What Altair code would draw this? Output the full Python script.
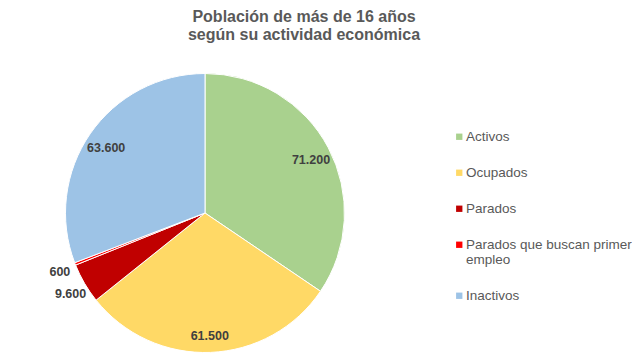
import altair as alt
import pandas as pd

categories = ["Activos", "Ocupados", "Parados", "Parados que buscan primer empleo", "Inactivos"]
values = [71200, 61500, 9600, 600, 63600]
colors = ["#A9D18E", "#FFD966", "#C00000", "#FF0000", "#9DC3E6"]
title_lines = ["Población de más de 16 años", "según su actividad económica"]

df = pd.DataFrame({"cat": categories, "value": values, "idx": list(range(len(categories)))})

base = alt.Chart(df).encode(
    theta=alt.Theta("value:Q", stack=True),
    order=alt.Order("idx:Q"),
)

pie = base.mark_arc(outerRadius=139.5, stroke="white", strokeWidth=1).encode(
    color=alt.Color(
        "cat:N",
        scale=alt.Scale(domain=categories, range=colors),
        sort=categories,
        legend=alt.Legend(
            title=None,
            orient="none",
            legendX=444.5,
            legendY=62,
            symbolType="square",
            symbolSize=40,
            symbolStrokeWidth=0,
            labelFontSize=13.5,
            labelFont="Liberation Sans",
            labelColor="#595959",
            rowPadding=21,
            labelOffset=0,
            labelLimit=300,
            labelExpr="datum.label == 'Parados que buscan primer empleo' ? ['Parados que buscan primer', 'empleo'] : datum.label",
        ),
    )
)

fmt = "replace(format(datum.value, ','), ',', '.')"

inner = base.transform_calculate(
    lbl="datum.value > 20000 ? " + fmt + " : ''"
).mark_text(
    radius=120, dy=3, fontSize=12.5, fontWeight="bold", font="Liberation Sans", color="#404040"
).encode(text="lbl:N")

outer = base.transform_calculate(
    lbl="datum.value < 20000 ? " + fmt + " : ''"
).mark_text(
    radius=158, dx=2, dy=1, fontSize=12.5, fontWeight="bold", font="Liberation Sans", color="#404040"
).encode(text="lbl:N")

chart = alt.layer(pie, inner, outer).properties(
    width=394,
    height=290,
    padding={"left": 0, "top": 60, "right": 230, "bottom": 0},
    autosize=alt.AutoSizeParams(type="none"),
    title=alt.TitleParams(
        text=title_lines,
        font="Liberation Sans",
        fontSize=16,
        fontWeight="bold",
        color="#595959",
        lineHeight=18.5,
        anchor="middle",
        dx=99,
        offset=25,
    ),
).configure_view(stroke=None)

chart.save("out.html", embed_options={"renderer": "svg", "actions": False})
